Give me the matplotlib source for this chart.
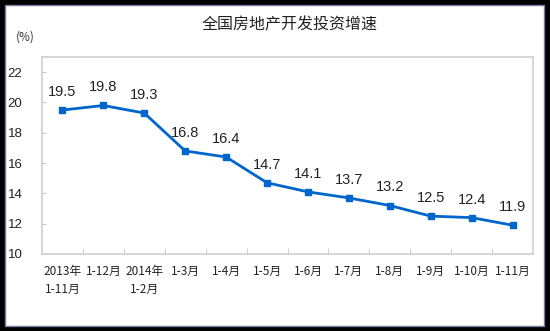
import matplotlib
matplotlib.use("Agg")
import matplotlib.pyplot as plt
from matplotlib.patches import Rectangle

plt.rcParams['font.family'] = ['Noto Sans CJK SC', 'DejaVu Sans']

categories = ["2013年\n1-11月", "1-12月", "2014年\n1-2月", "1-3月", "1-4月", "1-5月",
              "1-6月", "1-7月", "1-8月", "1-9月", "1-10月", "1-11月"]
growth = [19.5, 19.8, 19.3, 16.8, 16.4, 14.7, 14.1, 13.7, 13.2, 12.5, 12.4, 11.9]
y_ticks = [10, 12, 14, 16, 18, 20, 22]

fig = plt.figure(figsize=(5.5, 3.31), dpi=100, facecolor="black")
# white card inside the black frame
fig.patches.append(Rectangle((5 / 550, 5 / 331), 539 / 550, 321 / 331,
                             transform=fig.transFigure, facecolor="white",
                             edgecolor="#7a7aa0", linewidth=1.0, zorder=-1))

ax = fig.add_axes([42 / 550, (331 - 254) / 331, (533 - 42) / 550, (254 - 57) / 331])
ax.set_zorder(2)
ax.set_facecolor("white")

x = list(range(len(categories)))
line_color = "#0066CC"
ax.plot(x, growth, color=line_color, linewidth=2, marker="s", markersize=5,
        markerfacecolor=line_color, markeredgecolor=line_color)

for xi, v in zip(x, growth):
    ax.annotate(f"{v}", (xi, v), xytext=(0, 8), textcoords="offset points",
                ha="center", va="bottom", fontsize=10.5, color="#222222",
                family="Liberation Sans")

ax.set_xlim(-0.5, len(categories) - 0.5)
ax.set_ylim(10, 23)
ax.set_yticks(y_ticks)
ax.set_yticklabels([str(t) for t in y_ticks], fontsize=9.5, color="#222222",
                   family="Liberation Sans")
ax.set_xticks(x)
ax.set_xticklabels(categories, fontsize=8.5, color="#222222", va="top", linespacing=1.5)
ax.set_xticks([i + 0.5 for i in x[:-1]], minor=True)
ax.tick_params(axis="x", which="major", length=0, pad=8)
ax.tick_params(axis="x", which="minor", length=4, direction="in", color="#c8c8c8")
ax.tick_params(axis="y", length=3, direction="in", color="#c8c8c8", pad=14)
for side in ["left", "right", "top", "bottom"]:
    ax.spines[side].set_color("#d0d0d0")
    ax.spines[side].set_linewidth(1.2)

fig.text(290 / 550, 1 - 25 / 331, "全国房地产开发投资增速", ha="center", va="center",
         fontsize=11.5, color="#222222", fontweight="medium")
fig.text(25 / 550, 1 - 37 / 331, "(%)", ha="center", va="center", fontsize=8.5,
         color="#333333")

fig.savefig("out.png", dpi=100, facecolor=fig.get_facecolor())
